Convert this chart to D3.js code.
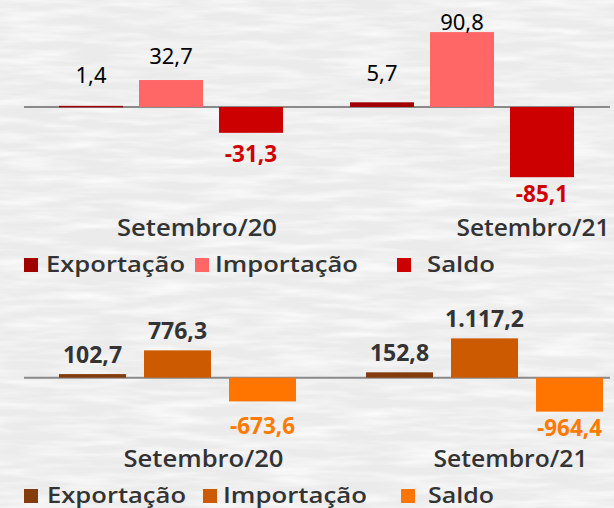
<!DOCTYPE html>
<html>
<head>
<meta charset="utf-8">
<script src="https://cdn.jsdelivr.net/npm/d3@7"></script>
<style>
  html, body { margin: 0; padding: 0; background: #efefef; }
  svg { display: block; }
</style>
</head>
<body>
<div id="grafico"></div>
<script>
// dados (milhões / bilhões)
var categorias = ["Setembro/20", "Setembro/21"],
    series = ["Exportação", "Importação", "Saldo"];

var exportacaoA = [1.4, 5.7],
    importacaoA = [32.7, 90.8],
    saldoA = [-31.3, -85.1];

var exportacaoB = [102.7, 152.8],
    importacaoB = [776.3, 1117.2],
    saldoB = [-673.6, -964.4];

var w = 614, h = 508;

var ptBR = d3.formatLocale({decimal: ",", thousands: ".", grouping: [3], currency: ["R$", ""], minus: "-"}),
    fmt = ptBR.format(",.1f");

var svg = d3.select("#grafico")
            .append("svg")
            .attr("width", w)
            .attr("height", h);

// fundo com textura de papel
var defs = svg.append("defs");
var filtro = defs.append("filter").attr("id", "papel")
    .attr("x", 0).attr("y", 0).attr("width", "100%").attr("height", "100%");
filtro.append("feTurbulence")
    .attr("type", "fractalNoise")
    .attr("baseFrequency", "0.015 0.12")
    .attr("numOctaves", 3)
    .attr("seed", 7);
filtro.append("feColorMatrix")
    .attr("type", "matrix")
    .attr("values", "0 0 0 0 1  0 0 0 0 1  0 0 0 0 1  1.6 0 0 0 -0.6");

svg.append("rect").attr("width", w).attr("height", h).attr("fill", "#ebebeb");
svg.append("rect").attr("width", w).attr("height", h).attr("filter", "url(#papel)");

var charts = [
    {
        valores: [exportacaoA, importacaoA, saldoA],
        cores: ["#A00000", "#FF6666", "#CC0000"],
        corNeg: "#D00000",
        yDomain: [-100, 100], yRange: [189.5, 24.5],
        xRange: [59, 574], padGrupo: 67 / 291, padBarra: 0.2,
        fonteValor: {family: "'Noto Sans', 'Open Sans', sans-serif", weight: 400, size: 22, cor: "#000"},
        // rótulos positivos
        rotuloPos: function (v, y) { return d3.scaleLinear().domain([0, 100]).range([y(0) - 23, y(0) - 83])(v); },
        rotuloNeg: function (v, y) { return Math.max(y(0) + 55, y(v) + 25); },
        catBase: 236, catDx: [26, 71], catLen: [160, 153],
        legY: 258, legQuad: [24, 195, 397], legTexto: [46, 215, 427], legLen: [139, 143, 68]
    },
    {
        valores: [exportacaoB, importacaoB, saldoB],
        cores: ["#843C0C", "#CC5A00", "#FF7500"],
        corNeg: "#FF7A00",
        yDomain: [-1000, 1200], yRange: [412.9, 335.46],
        xRange: [59, 603], padGrupo: 70 / 307, padBarra: 18 / 85,
        fonteValor: {family: "'Open Sans', sans-serif", weight: 700, size: 23, cor: "#333"},
        rotuloPos: function (v, y) { return Math.min(y(0) - 15, y(v) - 11); },
        rotuloNeg: function (v, y) { return Math.max(y(0) + 56, y(v) + 24); },
        catBase: 466.5, catDx: [26, 26], catLen: [160, 154],
        legY: 489, legQuad: [24, 203, 401], legTexto: [47, 223, 428], legLen: [139, 144, 66]
    }
];

charts.forEach(function (c) {
    var g = svg.append("g");

    var x0 = d3.scaleBand().domain(categorias).range(c.xRange).paddingInner(c.padGrupo),
        x1 = d3.scaleBand().domain(series).range([0, x0.bandwidth()]).paddingInner(c.padBarra),
        y = d3.scaleLinear().domain(c.yDomain).range(c.yRange),
        cor = d3.scaleOrdinal().domain(series).range(c.cores);

    var dados = [];
    categorias.forEach(function (cat, i) {
        series.forEach(function (s, j) {
            dados.push({cat: cat, serie: s, valor: c.valores[j][i]});
        });
    });

    // linha do zero
    g.append("line")
        .attr("x1", 24).attr("x2", 610)
        .attr("y1", y(0)).attr("y2", y(0))
        .attr("stroke", "#8a8a8a")
        .attr("stroke-width", 2);

    g.selectAll("rect.barra")
        .data(dados)
        .enter()
        .append("rect")
        .attr("class", "barra")
        .attr("x", function (d) { return x0(d.cat) + x1(d.serie); })
        .attr("y", function (d) { return y(Math.max(0, d.valor)); })
        .attr("width", x1.bandwidth())
        .attr("height", function (d) { return Math.max(1.5, Math.abs(y(d.valor) - y(0))); })
        .attr("fill", function (d) { return cor(d.serie); });

    // rótulos de dados
    g.selectAll("text.valor")
        .data(dados)
        .enter()
        .append("text")
        .attr("class", "valor")
        .attr("x", function (d) { return x0(d.cat) + x1(d.serie) + x1.bandwidth() / 2; })
        .attr("y", function (d) { return d.valor >= 0 ? c.rotuloPos(d.valor, y) : c.rotuloNeg(d.valor, y); })
        .attr("text-anchor", "middle")
        .style("font-family", function (d) { return d.valor >= 0 ? c.fonteValor.family : "'Open Sans', sans-serif"; })
        .style("font-weight", function (d) { return d.valor >= 0 ? c.fonteValor.weight : 700; })
        .style("font-size", function (d) { return (d.valor >= 0 ? c.fonteValor.size : 22.5) + "px"; })
        .attr("fill", function (d) { return d.valor >= 0 ? c.fonteValor.cor : c.corNeg; })
        .text(function (d) { return fmt(d.valor); });

    // categorias
    g.selectAll("text.cat")
        .data(categorias)
        .enter()
        .append("text")
        .attr("class", "cat")
        .attr("x", function (d, i) { return x0(d) + x0.bandwidth() / 2 + c.catDx[i]; })
        .attr("y", c.catBase)
        .attr("text-anchor", "middle")
        .attr("textLength", function (d, i) { return c.catLen[i]; })
        .attr("lengthAdjust", "spacingAndGlyphs")
        .style("font-family", "'Open Sans', sans-serif")
        .style("font-weight", 600)
        .style("font-size", "23px")
        .attr("fill", "#333")
        .text(function (d) { return d; });

    // legenda
    var leg = g.selectAll("g.leg")
        .data(series)
        .enter()
        .append("g")
        .attr("class", "leg");

    leg.append("rect")
        .attr("x", function (d, i) { return c.legQuad[i]; })
        .attr("y", c.legY)
        .attr("width", 14).attr("height", 14)
        .attr("fill", function (d) { return cor(d); });

    leg.append("text")
        .attr("x", function (d, i) { return c.legTexto[i]; })
        .attr("y", c.legY + 13.5)
        .attr("textLength", function (d, i) { return c.legLen[i]; })
        .attr("lengthAdjust", "spacingAndGlyphs")
        .style("font-family", "'Open Sans', sans-serif")
        .style("font-weight", 600)
        .style("font-size", "22px")
        .attr("fill", "#333")
        .text(function (d) { return d; });
});
</script>
</body>
</html>
